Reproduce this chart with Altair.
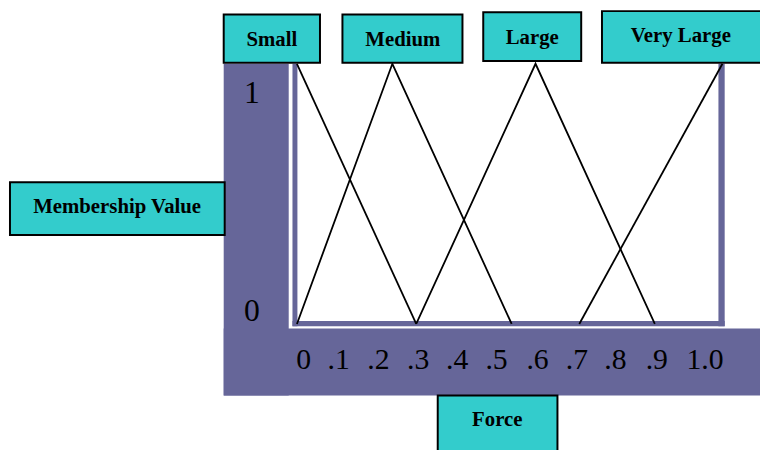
import altair as alt
import pandas as pd

# ---- chart values ----
series = ["Small", "Medium", "Large", "Very Large"]
small_force = [0.0, 0.30]
small_member = [1, 0]
medium_force = [0.0, 0.24, 0.54]
medium_member = [0, 1, 0]
large_force = [0.30, 0.60, 0.90]
large_member = [0, 1, 0]
vlarge_force = [0.71, 1.07]
vlarge_member = [0, 1]

tick_labels = ["0", ".1", ".2", ".3", ".4", ".5", ".6", ".7", ".8", ".9", "1.0"]
tick_pos = [0.017, 0.105, 0.205, 0.305, 0.403, 0.502, 0.605, 0.704, 0.801, 0.905, 1.026]
ytick_labels = ["1", "0"]
ytick_pos = [0.849, 0.01]
x_title = "Force"
y_title = "Membership Value"

# ---- layout ----
W, H = 760, 442
X0, XS = 292.0, 401.9   # view px of force 0, px per unit
Y0, YS = 317.0, 263.0   # view px of membership 0, px per unit
xscale = alt.Scale(domain=[-X0 / XS, (W - X0) / XS], nice=False, zero=False)
yscale = alt.Scale(domain=[(Y0 - H) / YS, Y0 / YS], nice=False, zero=False)

PURPLE = "#666699"
CYAN = "#33CCCC"
SERIF = "Liberation Serif"

one = pd.DataFrame({"k": [0]})

def rect(x, x2, y, y2, fill, stroke=None, sw=0):
    kw = dict(fill=fill, strokeWidth=sw)
    if stroke:
        kw["stroke"] = stroke
    return alt.Chart(one).mark_rect(**kw).encode(
        x=alt.value(x), x2=alt.value(x2), y=alt.value(y), y2=alt.value(y2))

def label(text, x, y, size=21, weight="bold"):
    return alt.Chart(one).mark_text(
        font=SERIF, fontSize=size, fontWeight=weight, color="black",
        align="center", baseline="alphabetic").encode(
        x=alt.value(x), y=alt.value(y), text=alt.value(text))

# purple frame shapes
decor = [
    rect(218, 283.7, 54, 389.3, PURPLE),      # left column
    rect(218, 760, 321.5, 389.3, PURPLE),     # bottom band
    rect(287.5, 292.5, 54, 319.3, PURPLE),    # inner left stripe
    rect(287.5, 724.3, 314, 319.3, PURPLE),   # inner bottom stripe
    rect(718, 724.3, 54, 319.3, PURPLE),      # inner right stripe
]

# lines
rows = []
for name, fx, my in [("Small", small_force, small_member),
                     ("Medium", medium_force, medium_member),
                     ("Large", large_force, large_member),
                     ("Very Large", vlarge_force, vlarge_member)]:
    for i, (f, m) in enumerate(zip(fx, my)):
        rows.append({"series": name, "force": f, "membership": m, "i": i})
lines_df = pd.DataFrame(rows)

lines = alt.Chart(lines_df).mark_line(color="black", strokeWidth=1.8).encode(
    x=alt.X("force:Q", scale=xscale, axis=None),
    y=alt.Y("membership:Q", scale=yscale, axis=None),
    detail="series:N",
    order="i:Q",
)

# boxes (x, x2, y, y2, text x, text baseline) in view pixels
box_layout = {
    "Small": (218, 315.3, 4.3, 53, 266.7, 36.3),
    "Medium": (338, 459.3, 4.3, 53, 399, 36.3),
    "Large": (480.3, 579.3, 2, 51.3, 529.8, 33.7),
    "Very Large": (600.3, 764, 0.8, 53, 680, 32),
    y_title: (2, 219, 173.7, 227, 110.3, 205.3),
    x_title: (434.3, 555.3, 389.3, 452, 494.5, 420.3),
}
boxes = []
for name in series + [y_title, x_title]:
    x, x2, y, y2, tx, ty = box_layout[name]
    boxes.append(rect(x, x2, y, y2, CYAN, "black", 2))
    boxes.append(label(name, tx, ty))

ticks_df = pd.DataFrame({"label": tick_labels, "pos": tick_pos})
xticks = alt.Chart(ticks_df).mark_text(
    font=SERIF, fontSize=30, color="black", align="center", baseline="alphabetic"
).encode(
    x=alt.X("pos:Q", scale=xscale, axis=None),
    y=alt.value(362.7),
    text="label:N",
)

yt_df = pd.DataFrame({"label": ytick_labels, "pos": ytick_pos})
yticks = alt.Chart(yt_df).mark_text(
    font=SERIF, fontSize=32, color="black", align="center", baseline="alphabetic"
).encode(
    x=alt.value(246.5),
    y=alt.Y("pos:Q", scale=yscale, axis=None),
    text="label:N",
)

chart = alt.layer(*decor, lines, xticks, yticks, *boxes).properties(
    width=W, height=H, padding=0, autosize="none", background="white"
).configure_view(stroke=None)

chart.save("out.html", embed_options={"renderer": "svg", "actions": False})
